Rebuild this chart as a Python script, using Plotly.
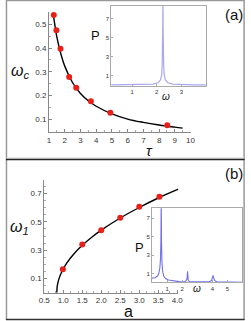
import plotly.graph_objects as go

# ---------------- data ----------------
# panel (a): omega_c vs tau
tau_pts = [1.3, 1.47, 1.73, 2.28, 2.73, 3.66, 4.9, 8.52]
wc_pts = [0.539, 0.475, 0.397, 0.278, 0.233, 0.176, 0.128, 0.075]
tau_curve = [1.27, 1.4, 1.5, 1.75, 2.0, 2.5, 3.0, 3.5, 4.0, 5.0, 6.0, 7.0, 8.0, 9.0, 9.5]
wc_curve = [0.54, 0.485, 0.446, 0.376, 0.324, 0.254, 0.209, 0.178, 0.155, 0.123, 0.101, 0.087, 0.076, 0.067, 0.063]

# inset (a): power spectrum
wa = [0.14, 0.5, 1.0, 1.5, 1.85, 2.05, 2.15, 2.2, 2.22, 2.24, 2.25, 2.26, 2.28, 2.3, 2.35, 2.45, 2.65, 3.0, 3.5, 4.0]
Pa = [0.02, 0.03, 0.04, 0.06, 0.1, 0.25, 0.55, 1.1, 2.2, 5.5, 9.0, 5.5, 2.2, 1.1, 0.55, 0.25, 0.1, 0.05, 0.03, 0.02]

# panel (b): omega_1 vs a
a_pts = [0.99, 1.5, 2.0, 2.5, 3.0, 3.53]
w1_pts = [0.166, 0.34, 0.441, 0.528, 0.607, 0.676]
a_curve = [0.83, 0.84, 0.86, 0.9, 0.95, 1.0, 1.1, 1.25, 1.5, 1.75, 2.0, 2.5, 3.0, 3.5, 4.03]
w1_curve = [0.0, 0.041, 0.071, 0.108, 0.141, 0.168, 0.212, 0.264, 0.334, 0.391, 0.441, 0.527, 0.601, 0.668, 0.730]

# inset (b): power spectrum
wb = [0.0, 0.2, 0.35, 0.45, 0.52, 0.56, 0.59, 0.61, 0.63, 0.66, 0.7, 0.78, 0.9, 1.1, 1.4, 1.8,
      2.2, 2.32, 2.36, 2.4, 2.5, 3.0, 3.8, 3.95, 4.02, 4.05, 4.08, 4.15, 4.3, 5.0, 6.0]
Pb = [0.5, 0.55, 0.7, 1.0, 1.6, 2.5, 4.5, 9.0, 4.5, 2.3, 1.3, 0.7, 0.45, 0.3, 0.2, 0.12,
      0.1, 0.4, 1.25, 0.3, 0.1, 0.08, 0.1, 0.25, 0.6, 0.8, 0.6, 0.25, 0.1, 0.06, 0.05]

W, H = 251, 321
FONT = "Liberation Sans"
RED = "#e8201a"


def px(x):
    return x / W


def py(y):
    return 1 - y / H


fig = go.Figure()

fig.add_trace(go.Scatter(x=tau_curve, y=wc_curve, mode="lines", line=dict(color="black", width=1.4, shape="spline"),
                         xaxis="x", yaxis="y", showlegend=False))
fig.add_trace(go.Scatter(x=tau_pts, y=wc_pts, mode="markers", marker=dict(color=RED, size=6),
                         xaxis="x", yaxis="y", showlegend=False, cliponaxis=False))
fig.add_trace(go.Scatter(x=wa, y=Pa, mode="lines", line=dict(color="#a8a8f0", width=1.2),
                         xaxis="x2", yaxis="y2", showlegend=False))
fig.add_trace(go.Scatter(x=a_curve, y=w1_curve, mode="lines", line=dict(color="black", width=1.4, shape="spline"),
                         xaxis="x3", yaxis="y3", showlegend=False))
fig.add_trace(go.Scatter(x=a_pts, y=w1_pts, mode="markers", marker=dict(color=RED, size=6),
                         xaxis="x3", yaxis="y3", showlegend=False, cliponaxis=False))
fig.add_trace(go.Scatter(x=wb, y=Pb, mode="lines", line=dict(color="#7070f0", width=1.1),
                         xaxis="x4", yaxis="y4", showlegend=False))

main_tick = dict(size=8, family=FONT, color="#333")
inset_tick = dict(size=6, family=FONT, color="#333")


def main_axis(**kw):
    d = dict(showline=True, linecolor="#888", linewidth=1, ticks="inside", ticklen=3, tickcolor="#888",
             showgrid=False, zeroline=False, tickfont=main_tick,
             minor=dict(ticks="inside", ticklen=2, tickcolor="#aaa"))
    d.update(kw)
    return d


def inset_axis(**kw):
    d = dict(showline=True, linecolor="#aaa", linewidth=1, mirror=True, ticks="inside", ticklen=2,
             tickcolor="#aaa", showgrid=False, zeroline=False, tickfont=inset_tick)
    d.update(kw)
    return d


fig.update_layout(
    width=W, height=H, margin=dict(l=0, r=0, t=0, b=0),
    paper_bgcolor="white", plot_bgcolor="white",
    xaxis=main_axis(domain=[px(45), px(193)], range=[1, 10], anchor="y", tickvals=list(range(1, 11))),
    yaxis=main_axis(domain=[py(132), py(12)], range=[0.0465, 0.552], anchor="x",
                    tickvals=[0.1, 0.2, 0.3, 0.4, 0.5], tickformat=".1f"),
    xaxis2=inset_axis(domain=[px(110), px(209)], range=[0.14, 4.0], anchor="y2", tickvals=[1, 2, 3]),
    yaxis2=inset_axis(domain=[py(86), py(5.7)], range=[-0.09, 8.4], anchor="x2", tickvals=[1, 3, 5, 7]),
    xaxis3=main_axis(domain=[px(40), px(180.3)], range=[0.5, 4.03], anchor="y3",
                     tickvals=[0.5, 1.0, 1.5, 2.0, 2.5, 3.0, 3.5, 4.0], tickformat=".1f"),
    yaxis3=main_axis(domain=[py(292.7), py(180)], range=[0, 0.795], anchor="x3",
                     tickvals=[0.1, 0.3, 0.5, 0.7], tickformat=".1f"),
    xaxis4=inset_axis(domain=[px(152.7), px(247.3)], range=[0, 6], anchor="y4", tickvals=[1, 2, 4, 5]),
    yaxis4=inset_axis(domain=[py(282.3), py(208.3)], range=[0.05, 8.08], anchor="x4", tickvals=[1, 3, 5, 7]),
)

shapes = [
    dict(type="line", x0=px(0.5), x1=px(0.5), y0=py(0), y1=py(320), line=dict(color="#999", width=1.5)),
    dict(type="line", x0=px(249), x1=px(249), y0=py(0), y1=py(320), line=dict(color="#999", width=1.5)),
    dict(type="line", x0=px(0), x1=px(249.5), y0=py(0.5), y1=py(0.5), line=dict(color="#999", width=1.5)),
    dict(type="line", x0=px(0), x1=px(249.5), y0=py(158), y1=py(158), line=dict(color="#ccc", width=1)),
    dict(type="line", x0=px(0), x1=px(249.5), y0=py(159.5), y1=py(159.5), line=dict(color="#222", width=1.5)),
    dict(type="line", x0=px(0), x1=px(249.5), y0=py(319.5), y1=py(319.5), line=dict(color="#333", width=1.5)),
]
for s in shapes:
    s.update(xref="paper", yref="paper")
fig.update_layout(shapes=shapes)


def ann(x, y, text, size, italic=False):
    fig.add_annotation(x=px(x), y=py(y), xref="paper", yref="paper", text=text, showarrow=False,
                       font=dict(size=size, family=FONT, color="#111",
                                 style="italic" if italic else "normal"),
                       xanchor="center", yanchor="middle")


ann(15, 71, "ω<sub>c</sub>", 16, italic=True)
ann(150, 150, "τ", 15, italic=True)
ann(238, 14, "(a)", 15)
ann(94, 35, "P", 13)
ann(167, 97, "ω", 10, italic=True)

ann(14, 227, "ω<sub>1</sub>", 16, italic=True)
ann(128, 311, "a", 16)
ann(238, 174, "(b)", 15)
ann(140, 247, "P", 13)
ann(200, 288, "ω", 10, italic=True)

fig.write_html("out.html", config={"displayModeBar": False},
               post_script="document.body.style.margin='0';document.body.style.overflow='hidden';")
